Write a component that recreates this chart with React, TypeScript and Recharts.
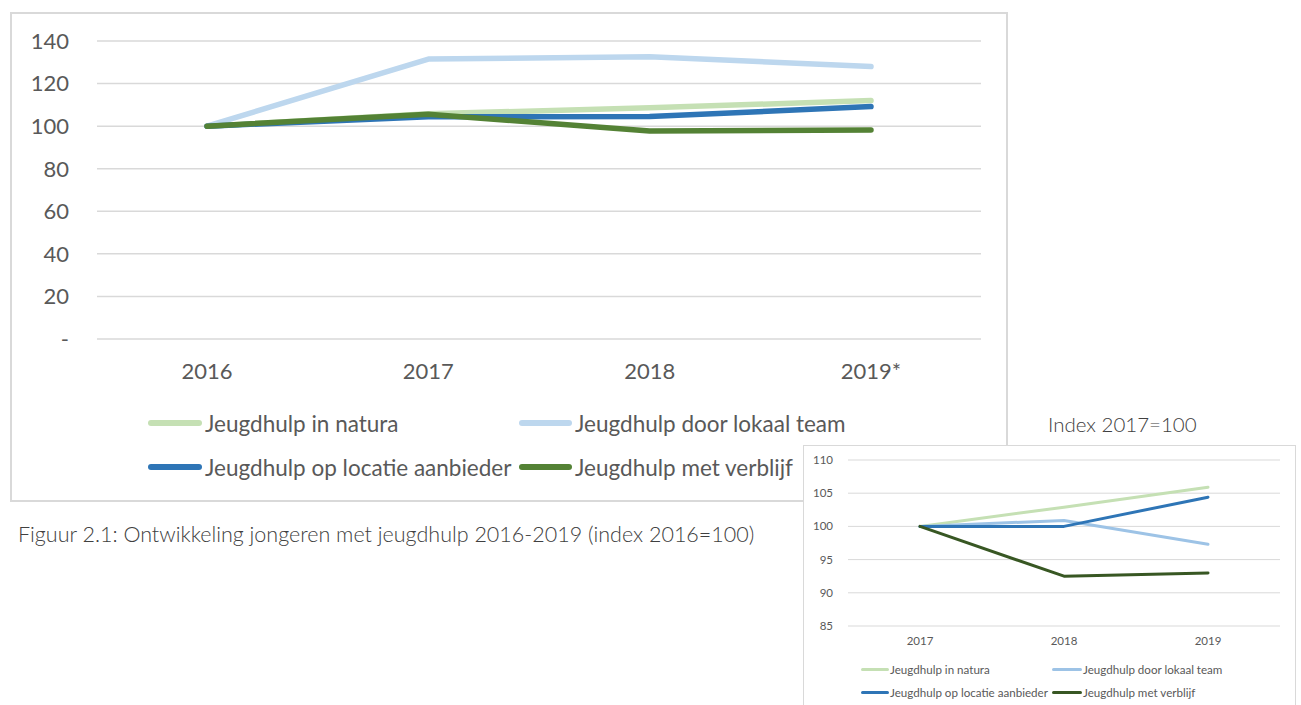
import React from 'react';
import { LineChart, Line, XAxis, YAxis, CartesianGrid, Legend } from 'recharts';

// ---- main chart data (index 2016 = 100) ----
const years = ['2016', '2017', '2018', '2019*'];
const natura = [100, 105.8, 108.6, 112.0];
const lokaal = [100, 131.5, 132.6, 128.0];
const locatie = [100, 104.4, 104.5, 109.2];
const verblijf = [100, 105.6, 97.7, 98.2];
const mainTicks = [0, 20, 40, 60, 80, 100, 120, 140];

// ---- inset chart data (index 2017 = 100) ----
const insetYears = ['2017', '2018', '2019'];
const natura2 = [100, 102.9, 105.9];
const lokaal2 = [100, 100.9, 97.3];
const locatie2 = [100, 100.0, 104.4];
const verblijf2 = [100, 92.5, 93.0];
const insetTicks = [85, 90, 95, 100, 105, 110];

const names = [
  'Jeugdhulp in natura',
  'Jeugdhulp door lokaal team',
  'Jeugdhulp op locatie aanbieder',
  'Jeugdhulp met verblijf',
];
const keys = ['natura', 'lokaal', 'locatie', 'verblijf'];
const mainColors = ['#C5E0B4', '#BDD7EE', '#2E75B6', '#548235'];
const insetColors = ['#C5E0B4', '#9DC3E6', '#2E75B6', '#385723'];

const caption = 'Figuur 2.1: Ontwikkeling jongeren met jeugdhulp 2016-2019 (index 2016=100)';
const insetTitle = 'Index 2017=100';

const mainData = years.map((y, i) => ({
  year: y,
  natura: natura[i],
  lokaal: lokaal[i],
  locatie: locatie[i],
  verblijf: verblijf[i],
}));
const insetData = insetYears.map((y, i) => ({
  year: y,
  natura: natura2[i],
  lokaal: lokaal2[i],
  locatie: locatie2[i],
  verblijf: verblijf2[i],
}));

const FONT = 'Lato, "Open Sans", sans-serif';
const TXT = '#595959';

function makeLegend(opts: {
  cols: number[];
  lineW: number[];
  rows: number[];
  thick: number;
  fontSize: number;
  colors: string[];
  gap: number;
}) {
  return () => (
    <div style={{ position: 'relative', width: '100%', height: 80 }}>
      {names.map((n, i) => {
        const col = i % 2;
        const row = Math.floor(i / 2);
        return (
          <div
            key={n}
            style={{
              position: 'absolute',
              left: opts.cols[col],
              top: opts.rows[row] - 15,
              height: 30,
              display: 'flex',
              alignItems: 'center',
              whiteSpace: 'nowrap',
              fontFamily: FONT,
              fontSize: opts.fontSize,
              color: TXT,
            }}
          >
            <span
              style={{
                display: 'inline-block',
                width: opts.lineW[col],
                height: opts.thick,
                borderRadius: opts.thick / 2,
                background: opts.colors[i],
                marginRight: opts.gap,
              }}
            />
            <span>{n}</span>
          </div>
        );
      })}
    </div>
  );
}

const MainLegend = makeLegend({
  cols: [138, 509],
  lineW: [54, 53],
  rows: [16, 60],
  thick: 6,
  fontSize: 22.5,
  colors: mainColors,
  gap: 3,
});

const InsetLegend = makeLegend({
  cols: [58, 249],
  lineW: [28, 30],
  rows: [14, 37],
  thick: 3,
  fontSize: 11.6,
  colors: insetColors,
  gap: 1,
});

export default function App() {
  return (
    <div
      style={{
        position: 'absolute',
        left: 0,
        top: 0,
        width: 1301,
        height: 705,
        overflow: 'hidden',
        background: '#fff',
        fontFamily: FONT,
      }}
    >
      {/* main chart */}
      <div style={{ position: 'absolute', left: 10, top: 12, width: 998, height: 490 }}>
        <LineChart
          width={998}
          height={490}
          data={mainData}
          margin={{ top: 29, right: 27, left: 0, bottom: 113 }}
        >
          <CartesianGrid vertical={false} stroke="#D9D9D9" strokeWidth={1.5} />
          <XAxis
            dataKey="year"
            tickLine={false}
            axisLine={false}
            tickSize={0}
            tickMargin={24}
            height={50}
            padding={{ left: 110, right: 110 }}
            tick={{ fill: TXT, fontSize: 22, fontFamily: FONT }}
            interval={0}
          />
          <YAxis
            width={87}
            domain={[0, 140]}
            ticks={mainTicks}
            tickLine={false}
            axisLine={false}
            tickSize={0}
            tickMargin={28}
            tickFormatter={(v: number) => (v === 0 ? '-' : String(v))}
            tick={{ fill: TXT, fontSize: 22, fontFamily: FONT }}
          />
          <Legend
            layout="horizontal"
            verticalAlign="middle"
            content={<MainLegend />}
            wrapperStyle={{ left: 0, top: 395, width: 998, height: 80 }}
          />
          {keys.map((k, i) => (
            <Line
              key={k}
              dataKey={k}
              name={names[i]}
              stroke={mainColors[i]}
              strokeWidth={5.5}
              strokeLinecap="round"
              strokeLinejoin="round"
              dot={false}
              activeDot={false}
              isAnimationActive={false}
            />
          ))}
        </LineChart>
        <div
          style={{
            position: 'absolute',
            left: 0,
            top: 0,
            width: 998,
            height: 490,
            boxSizing: 'border-box',
            border: '2px solid #D9D9D9',
            pointerEvents: 'none',
          }}
        />
      </div>

      {/* caption */}
      <div
        style={{
          position: 'absolute',
          left: 18,
          top: 521,
          fontFamily: FONT,
          fontWeight: 300,
          fontSize: 21.5,
          color: '#404040',
          whiteSpace: 'nowrap',
        }}
      >
        {caption}
      </div>

      {/* inset title */}
      <div
        style={{
          position: 'absolute',
          left: 1048,
          top: 412,
          fontFamily: FONT,
          fontWeight: 300,
          fontSize: 20.5,
          color: '#404040',
          whiteSpace: 'nowrap',
        }}
      >
        {insetTitle}
      </div>

      {/* inset chart */}
      <div
        style={{
          position: 'absolute',
          left: 803,
          top: 445,
          width: 493,
          height: 270,
          background: '#fff',
        }}
      >
        <LineChart
          width={493}
          height={260}
          data={insetData}
          margin={{ top: 15, right: 16, left: 0, bottom: 49 }}
        >
          <CartesianGrid vertical={false} stroke="#D9D9D9" strokeWidth={1} />
          <XAxis
            dataKey="year"
            tickLine={false}
            axisLine={false}
            tickSize={0}
            tickMargin={11}
            height={30}
            padding={{ left: 72, right: 72 }}
            tick={{ fill: TXT, fontSize: 11.5, fontFamily: FONT }}
            interval={0}
          />
          <YAxis
            width={45}
            domain={[85, 110]}
            ticks={insetTicks}
            tickLine={false}
            axisLine={false}
            tickSize={0}
            tickMargin={15}
            tick={{ fill: TXT, fontSize: 11.5, fontFamily: FONT }}
          />
          <Legend
            layout="horizontal"
            verticalAlign="middle"
            content={<InsetLegend />}
            wrapperStyle={{ left: 0, top: 210, width: 493, height: 50 }}
          />
          {keys.map((k, i) => (
            <Line
              key={k}
              dataKey={k}
              name={names[i]}
              stroke={insetColors[i]}
              strokeWidth={3}
              strokeLinecap="round"
              strokeLinejoin="round"
              dot={false}
              activeDot={false}
              isAnimationActive={false}
            />
          ))}
        </LineChart>
        <div
          style={{
            position: 'absolute',
            left: 0,
            top: 0,
            width: 493,
            height: 270,
            boxSizing: 'border-box',
            border: '1.5px solid #D9D9D9',
            pointerEvents: 'none',
          }}
        />
      </div>
    </div>
  );
}
